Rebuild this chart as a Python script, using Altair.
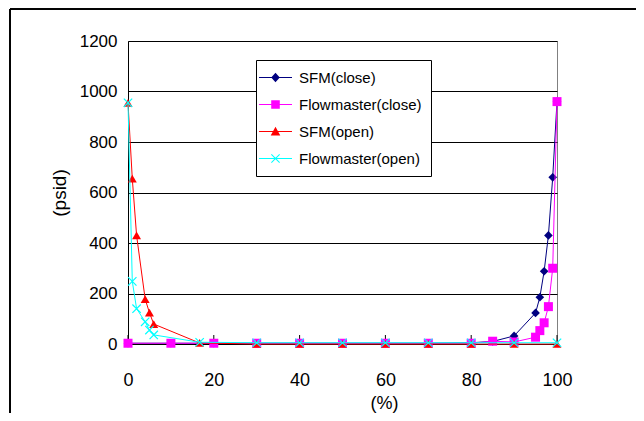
import altair as alt
import pandas as pd

# ---------------- data ----------------
series_names = ["SFM(close)", "Flowmaster(close)", "SFM(open)", "Flowmaster(open)"]
series_colors = ["#000080", "#FF00FF", "#FF0000", "#00FFFF"]

close_x = [0, 10, 20, 30, 40, 50, 60, 70, 80, 85, 90, 95, 96, 97, 98, 99, 100]
sfm_close_y = [3, 3, 3, 3, 3, 3, 3, 3, 5, 10, 32, 123, 185, 288, 430, 660, 960]
fm_close_y = [3, 3, 3, 3, 3, 3, 3, 3, 3, 11, 8, 27, 53, 84, 148, 300, 960]

open_x = [0, 1, 2, 4, 5, 6, 16.7, 30, 40, 50, 60, 70, 80, 90, 100]
sfm_open_y = [955, 655, 430, 178, 124, 79, 4, 0, 0, 0, 0, 0, 0, 0, 0]
fm_open_y = [955, 248, 140, 88, 55, 36, 7, 5, 5, 5, 5, 5, 5, 5, 5]

x_ticks = [0, 20, 40, 60, 80, 100]
y_ticks = [0, 200, 400, 600, 800, 1000, 1200]

# ---------------- table ----------------
rows = []
for name, xs, ys in [
    (series_names[0], close_x, sfm_close_y),
    (series_names[1], close_x, fm_close_y),
    (series_names[2], open_x, sfm_open_y),
    (series_names[3], open_x, fm_open_y),
]:
    for i, (xv, yv) in enumerate(zip(xs, ys)):
        rows.append({"series": name, "x": xv, "y": yv, "idx": i})
df = pd.DataFrame(rows)
ticks_df = pd.DataFrame({"x": x_ticks})

W, H = 429, 303
FONT = "Liberation Sans"

x_axis = alt.Axis(
    values=x_ticks, grid=False, ticks=False, tickSize=0, domainColor="#000000",
    labelFont=FONT, labelFontSize=18, labelColor="#000000", labelPadding=27,
    labelFlush=False, format="d",
    title="(%)", titleFont=FONT, titleFontSize=18, titleFontWeight="normal",
    titleColor="#000000", titleX=256, titleY=50, titleBaseline="top",
    titleAlign="center",
)
x_enc = alt.X("x:Q", scale=alt.Scale(domain=[0, 100], nice=False), axis=x_axis)
y_enc = alt.Y(
    "y:Q",
    scale=alt.Scale(domain=[0, 1200], nice=False),
    axis=alt.Axis(
        values=y_ticks, grid=True, gridColor="#000000", gridWidth=1, ticks=False,
        tickSize=0, domainColor="#000000", labelFont=FONT, labelFontSize=17,
        labelColor="#000000", labelPadding=11, format="d", labelFlush=False,
        title="(psid)", titleFont=FONT, titleFontSize=19, titleFontWeight="normal",
        titleColor="#000000", titlePadding=10,
    ),
)

layers = []

# outer chart-area frame (decoration)
layers.append(alt.Chart(ticks_df).mark_rule(color="#000000", strokeWidth=1).encode(
    x=alt.value(-118), y=alt.value(-32), y2=alt.value(600)))
layers.append(alt.Chart(ticks_df).mark_rule(color="#000000", strokeWidth=1).encode(
    x=alt.value(-118), x2=alt.value(800), y=alt.value(-32)))

# inward x-axis ticks
layers.append(alt.Chart(ticks_df).mark_rule(color="#000000", strokeWidth=1).encode(
    x=x_enc, y=alt.value(H), y2=alt.value(H - 9)))

marker_shapes = ["diamond", "square", "triangle-up", "M-1,-1L1,1M-1,1L1,-1"]
marker_sizes = [75, 81, 80, 70]

for i, name in enumerate(series_names):
    base = alt.Chart(df).transform_filter(alt.datum.series == name)
    layers.append(base.mark_line(color=series_colors[i], strokeWidth=1).encode(
        x=x_enc, y=y_enc, order="idx:Q"))
    if i < 3:
        pts = base.mark_point(shape=marker_shapes[i], filled=True, size=marker_sizes[i],
                              color=series_colors[i], opacity=1, strokeWidth=0)
    else:
        pts = base.mark_point(shape=marker_shapes[i], filled=False, size=marker_sizes[i],
                              color=series_colors[i], opacity=1, strokeWidth=1.2)
    layers.append(pts.encode(x=x_enc, y=y_enc))

# legend symbols: line segment + marker as filled paths
LINE = "M-2,-0.06H2V0.06H-2Z"
legend_paths = [
    LINE + " M0,-0.58L0.52,0L0,0.58L-0.52,0Z",
    LINE + " M-0.52,-0.52H0.52V0.52H-0.52Z",
    LINE + " M0,-0.58L0.58,0.5H-0.58Z",
    LINE + " M-0.455,-0.545L0.545,0.455L0.455,0.545L-0.545,-0.455Z"
           " M-0.545,0.455L0.455,-0.545L0.545,-0.455L-0.455,0.545Z",
]
legend_layer = alt.Chart(df).transform_filter("false").mark_point(filled=True, opacity=1).encode(
    x=x_enc, y=y_enc,
    color=alt.Color("series:N", scale=alt.Scale(domain=series_names, range=series_colors),
                    legend=alt.Legend(title=None)),
    shape=alt.Shape("series:N", scale=alt.Scale(domain=series_names, range=legend_paths),
                    legend=alt.Legend(title=None)),
)
layers.append(legend_layer)

chart = alt.layer(*layers).properties(
    width=W, height=H,
    autosize=alt.AutoSizeParams(type="none"),
    padding={"left": 120, "top": 33, "right": 79, "bottom": 69},
).configure_view(
    stroke="#808080", strokeWidth=1
).configure_legend(
    orient="none", legendX=128, legendY=19,
    fillColor="#FFFFFF", strokeColor="#000000", padding=9,
    rowPadding=10, labelFont=FONT, labelFontSize=15, labelColor="#000000",
    symbolSize=272, symbolOffset=2, labelOffset=15, symbolStrokeWidth=0,
    symbolOpacity=1,
)

chart.save("out.html", embed_options={"renderer": "svg", "actions": False})
